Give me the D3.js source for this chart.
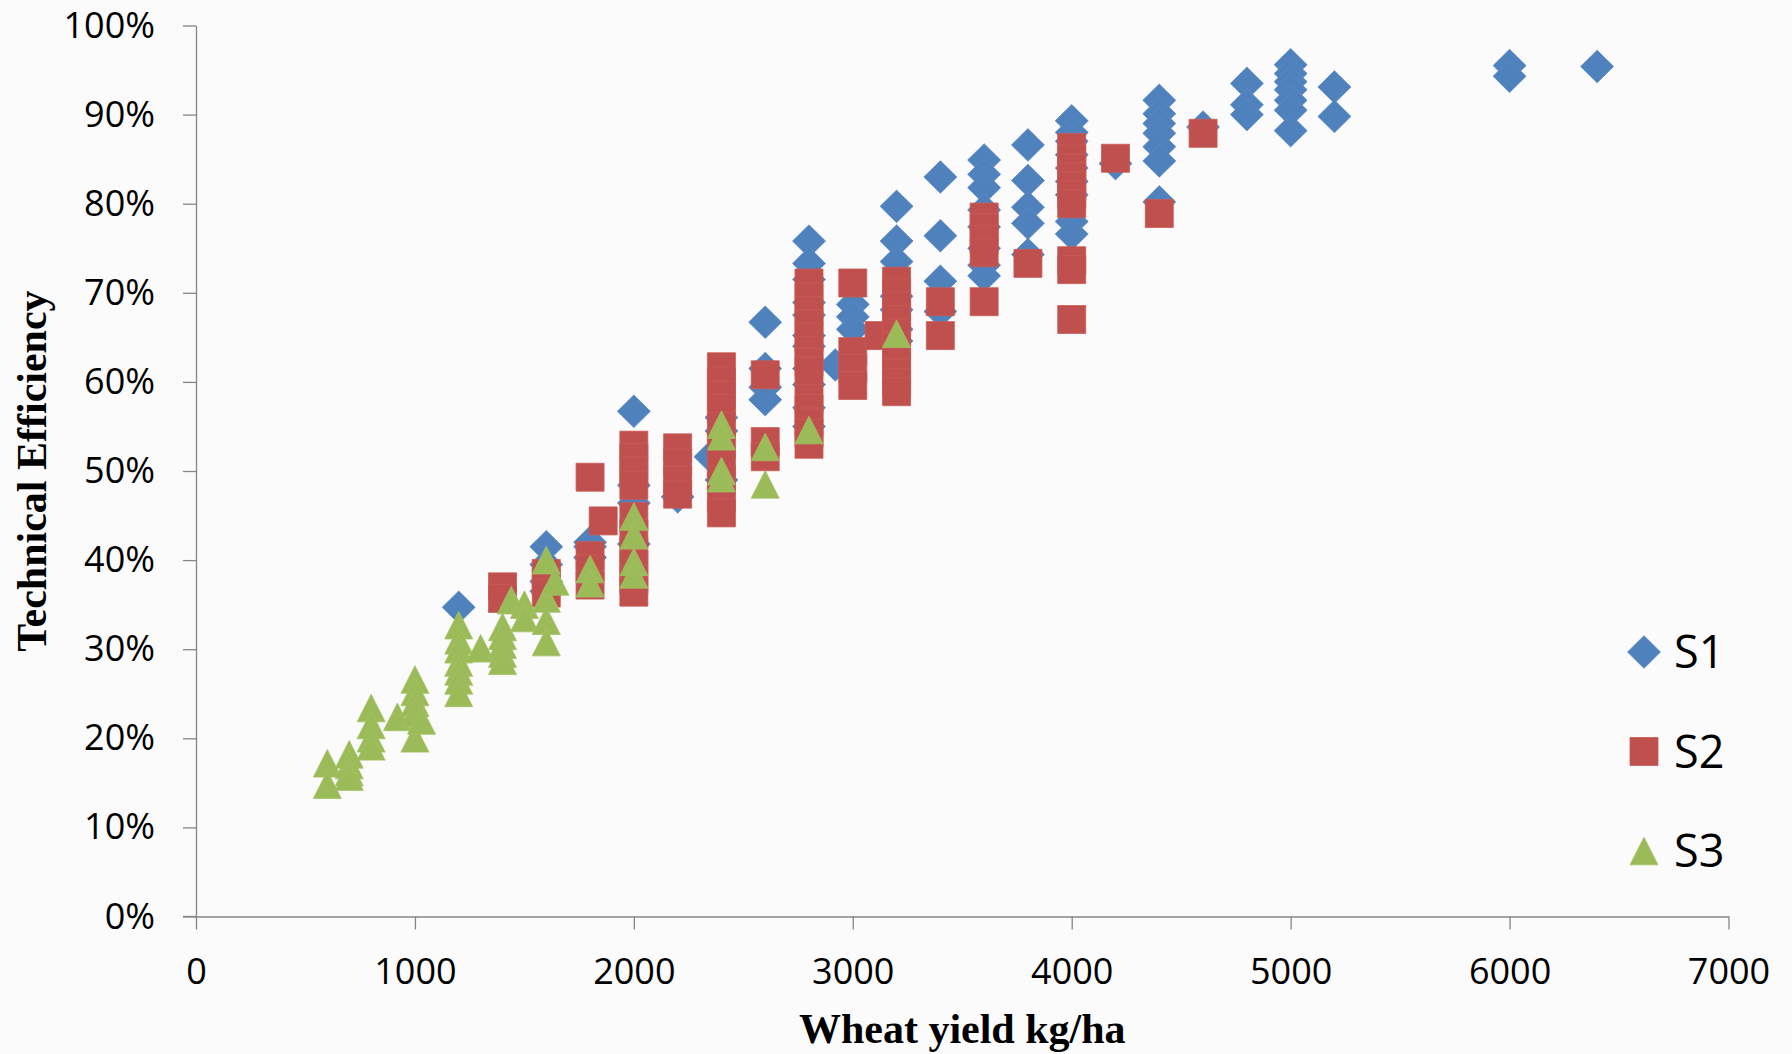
<!DOCTYPE html>
<html>
<head>
<meta charset="utf-8">
<script src="https://cdn.jsdelivr.net/npm/d3@7"></script>
<style>
  html, body { margin: 0; padding: 0; background: #fbfbfb; }
  svg { display: block; }
</style>
</head>
<body>
<svg id="chart" width="1792" height="1054"></svg>
<script>
// ---------------- DATA ----------------
const seriesNames = ["S1", "S2", "S3"];
const xTicks = [0, 1000, 2000, 3000, 4000, 5000, 6000, 7000];
const yTicks = [0, 0.1, 0.2, 0.3, 0.4, 0.5, 0.6, 0.7, 0.8, 0.9, 1.0];
const xTitle = "Wheat yield kg/ha";
const yTitle = "Technical Efficiency";

// [yield kg/ha, technical efficiency %]
const s1 = [
  [1200,34.7],
  [1600,41.5],[1600,39.5],[1600,37.6],[1600,36.5],
  [1800,42.0],[1800,41.5],[1800,40.3],
  [2000,56.7],[2000,48.4],[2000,46.4],[2000,41.8],
  [2200,47.1],
  [2350,51.6],
  [2400,56.0],[2400,54.5],[2400,49.0],
  [2600,66.7],[2600,61.5],[2600,59.4],[2600,58.0],
  [2800,75.8],[2800,73.3],[2800,71.5],[2800,68.9],[2800,67.5],[2800,65.2],[2800,64.0],[2800,61.5],[2800,59.7],[2800,57.1],[2800,55.0],
  [2920,61.9],
  [3000,68.7],[3000,67.3],[3000,65.9],
  [3200,79.7],[3200,75.8],[3200,73.5],[3200,69.6],[3200,68.1],[3200,65.9],[3200,64.6],
  [3400,83.0],[3400,76.4],[3400,71.3],[3400,67.9],
  [3600,84.9],[3600,83.3],[3600,81.8],[3600,79.3],[3600,77.4],[3600,75.0],[3600,73.1],[3600,71.9],
  [3800,86.6],[3800,82.6],[3800,79.6],[3800,77.8],[3800,74.3],
  [4000,89.3],[4000,88.0],[4000,87.0],[4000,85.5],[4000,84.0],[4000,82.5],[4000,81.0],[4000,78.0],[4000,76.6],
  [4200,84.5],
  [4400,91.6],[4400,90.1],[4400,89.0],[4400,87.9],[4400,86.4],[4400,84.8],[4400,80.2],
  [4600,88.6],
  [4800,93.5],[4800,91.1],[4800,90.0],
  [5000,95.6],[5000,94.6],[5000,93.7],[5000,92.8],[5000,91.6],[5000,90.5],[5000,88.2],
  [5200,93.1],[5200,89.8],
  [6000,95.5],[6000,94.3],
  [6400,95.4]
];

const s2 = [
  [1400,37.0],[1400,35.7],
  [1600,38.5],[1600,37.5],[1600,36.3],
  [1800,49.3],[1800,40.5],[1800,39.0],[1800,37.2],
  [1860,44.4],
  [2000,52.9],[2000,51.5],[2000,50.0],[2000,48.4],[2000,44.9],[2000,43.0],[2000,41.0],[2000,39.5],[2000,37.8],[2000,36.4],
  [2200,52.6],[2200,51.0],[2200,49.0],[2200,47.4],
  [2400,61.7],[2400,60.0],[2400,58.5],[2400,57.0],[2400,55.0],[2400,53.0],[2400,51.0],[2400,49.0],[2400,47.0],[2400,45.3],
  [2600,60.8],[2600,53.3],[2600,51.6],
  [2800,71.1],[2800,69.5],[2800,68.0],[2800,66.5],[2800,65.0],[2800,63.5],[2800,62.2],[2800,61.2],[2800,58.1],[2800,57.0],[2800,55.5],[2800,54.2],[2800,53.0],
  [3000,71.1],[3000,63.4],[3000,61.5],[3000,59.6],
  [3120,65.2],
  [3200,71.3],[3200,70.0],[3200,68.5],[3200,67.0],[3200,65.5],[3200,64.0],[3200,62.5],[3200,61.0],[3200,59.9],[3200,58.9],
  [3400,69.0],[3400,65.2],
  [3600,78.5],[3600,77.3],[3600,76.0],[3600,74.5],[3600,69.0],
  [3800,73.3],
  [4000,86.3],[4000,85.0],[4000,84.0],[4000,83.0],[4000,82.0],[4000,81.0],[4000,80.0],[4000,73.6],[4000,72.6],[4000,67.0],
  [4200,85.1],
  [4400,78.9],
  [4600,87.9]
];

const s3 = [
  [600,17.2],[600,14.8],
  [700,18.2],[700,17.0],[700,16.2],[700,15.7],
  [800,23.4],[800,21.5],[800,20.0],[800,19.1],
  [920,22.4],
  [1000,26.6],[1000,25.2],[1000,24.0],[1000,22.8],[1000,20.0],
  [1030,22.0],
  [1200,32.7],[1200,31.0],[1200,30.0],[1200,28.5],[1200,27.5],[1200,26.5],[1200,25.1],
  [1300,30.1],
  [1400,32.5],[1400,31.5],[1400,30.5],[1400,29.5],[1400,28.7],
  [1440,35.5],
  [1500,35.0],[1500,33.5],
  [1600,40.0],[1600,35.7],[1600,33.2],[1600,30.8],
  [1640,37.6],
  [1800,39.0],[1800,37.4],
  [2000,44.9],[2000,42.8],[2000,39.8],[2000,38.4],
  [2400,55.2],[2400,53.9],[2400,50.0],[2400,49.2],
  [2600,52.7],[2600,48.5],
  [2800,54.6],
  [3200,65.4]
];

// ---------------- STYLE / LAYOUT ----------------
const colors = ["#4F81BD", "#C0504D", "#9BBB59"];
const strokes = ["#5b8cc6", "#c95a57", "#a3c263"];
const shapes = {
  diamond: "M0,-16.3L16.5,0L0,16.3L-16.5,0Z",
  square: "M-14,-14H14V14H-14Z",
  triangle: "M0,-13.8L14,13.8L-14,13.8Z"
};
const shapeOf = ["diamond", "square", "triangle"];
const allSeries = [s1, s2, s3];

const svg = d3.select("#chart");
const mLeft = 196, mRight = 1728.5, mTop = 25.5, mBottom = 916.5;

const x = d3.scaleLinear().domain([0, 7000]).range([mLeft, mRight]);
const y = d3.scaleLinear().domain([0, 1]).range([mBottom, mTop]);

const tickFont = "'Open Sans', 'Liberation Sans', sans-serif";

// axes
const yAxis = d3.axisLeft(y).tickValues(yTicks).tickFormat(d3.format(".0%"))
  .tickSize(13).tickSizeOuter(0).tickPadding(28);
const xAxis = d3.axisBottom(x).tickValues(xTicks).tickFormat(d3.format("d"))
  .tickSize(13).tickSizeOuter(0).tickPadding(29);

const gy = svg.append("g").attr("transform", `translate(${mLeft},0)`).call(yAxis);
const gx = svg.append("g").attr("transform", `translate(0,${mBottom})`).call(xAxis);

[gx, gy].forEach(g => {
  g.select(".domain").attr("stroke", "#868686").attr("stroke-width", 1.3);
  g.selectAll(".tick line").attr("stroke", "#868686").attr("stroke-width", 1.3);
  g.selectAll(".tick text").attr("fill", "#000").style("font-family", tickFont)
    .style("font-size", "36px");
});
svg.append("line")
  .attr("x1", mLeft - 13).attr("x2", mLeft)
  .attr("y1", mBottom).attr("y2", mBottom)
  .attr("stroke", "#868686").attr("stroke-width", 1.3);

// markers
allSeries.forEach((data, i) => {
  svg.append("g").attr("class", "series-" + seriesNames[i])
    .selectAll("path")
    .data(data)
    .join("path")
    .attr("d", shapes[shapeOf[i]])
    .attr("transform", d => `translate(${x(d[0])},${y(d[1] / 100)})`)
    .attr("fill", colors[i])
    .attr("stroke", strokes[i])
    .attr("stroke-width", 0.8);
});

// axis titles
svg.append("text")
  .attr("x", (mLeft + mRight) / 2).attr("y", 1043)
  .attr("text-anchor", "middle")
  .style("font-family", "'Liberation Serif', 'Times New Roman', serif")
  .style("font-weight", "bold").style("font-size", "42px")
  .text(xTitle);

svg.append("text")
  .attr("transform", `translate(46,${(mTop + mBottom) / 2}) rotate(-90)`)
  .attr("text-anchor", "middle")
  .style("font-family", "'Liberation Serif', 'Times New Roman', serif")
  .style("font-weight", "bold").style("font-size", "42px")
  .text(yTitle);

// legend
const legend = svg.append("g").attr("transform", "translate(1644,652)");
seriesNames.forEach((name, i) => {
  const g = legend.append("g").attr("transform", `translate(0,${i * 99.5})`);
  g.append("path").attr("d", shapes[shapeOf[i]])
    .attr("fill", colors[i]).attr("stroke", strokes[i]).attr("stroke-width", 0.8);
  g.append("text").attr("x", 30).attr("dy", "0.36em")
    .style("font-family", tickFont).style("font-size", "45px")
    .attr("fill", "#000")
    .text(name);
});
</script>
</body>
</html>
